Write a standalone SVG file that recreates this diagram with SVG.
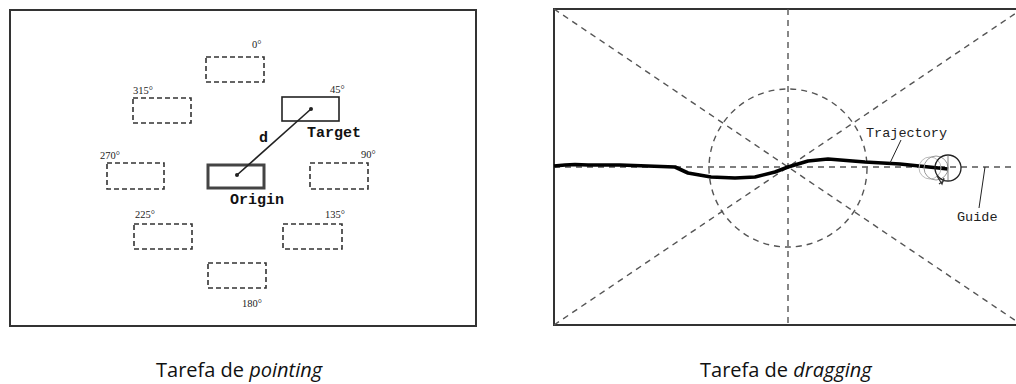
<svg xmlns="http://www.w3.org/2000/svg" width="1016" height="384" viewBox="0 0 1016 384">
<style>
.frame{fill:none;stroke:#333;stroke-width:2}
.dbox{fill:none;stroke:#333;stroke-width:1.6;stroke-dasharray:5 3}
.deg{font-family:"Liberation Serif",serif;font-size:10.5px;fill:#222}
.lbl{font-family:"Liberation Mono",monospace;font-size:15px;font-weight:bold;fill:#111}
.mono{font-family:"Liberation Mono",monospace;font-size:13.5px;fill:#222}
.guide{fill:none;stroke:#555;stroke-width:1.4;stroke-dasharray:6 5}
.cap{font-family:"Open Sans",sans-serif;font-size:20px;fill:#111}
</style>
<rect width="1016" height="384" fill="#fff"/>
<g id="pointing">
<rect class="frame" x="10" y="10" width="466" height="316"/>
<g id="t0"><rect class="dbox" x="206" y="57" width="58" height="25"/><text class="deg" x="252" y="48">0°</text></g>
<g id="t315"><rect class="dbox" x="133" y="98" width="58" height="25"/><text class="deg" x="133" y="94">315°</text></g>
<g id="target"><rect x="282" y="97" width="57" height="24" fill="none" stroke="#222" stroke-width="1.6"/><text class="deg" x="330" y="93">45°</text><text class="lbl" x="307" y="137">Target</text></g>
<g id="t270"><rect class="dbox" x="107" y="163" width="57" height="26"/><text class="deg" x="100" y="159">270°</text></g>
<g id="origin"><rect x="208" y="165" width="56" height="23" fill="none" stroke="#444" stroke-width="3"/><text class="lbl" x="230" y="204">Origin</text></g>
<g id="t90"><rect class="dbox" x="310" y="163" width="58" height="26"/><text class="deg" x="361" y="158">90°</text></g>
<g id="t225"><rect class="dbox" x="134" y="224" width="58" height="25"/><text class="deg" x="135" y="218">225°</text></g>
<g id="t135"><rect class="dbox" x="283" y="224" width="59" height="25"/><text class="deg" x="325" y="218">135°</text></g>
<g id="t180"><rect class="dbox" x="208" y="263" width="58" height="25"/><text class="deg" x="242" y="307">180°</text></g>
<g id="connectors">
<line x1="237" y1="175" x2="311" y2="109" stroke="#222" stroke-width="1.6"/>
<circle cx="237" cy="175" r="2" fill="#222"/>
<circle cx="311" cy="109" r="2" fill="#222"/>
</g>
<text class="lbl" x="259" y="142">d</text>
</g>
<g id="dragging">
<rect class="frame" x="554" y="9" width="470" height="316"/>
<line class="guide" x1="788" y1="9" x2="788" y2="325"/>
<line class="guide" x1="554" y1="9" x2="1022" y2="325"/>
<line class="guide" x1="554" y1="325" x2="1022" y2="9"/>
<line class="guide" x1="554" y1="167" x2="1016" y2="167"/>
<circle class="guide" cx="788" cy="168" r="79"/>
<path d="M554,166 L565,165 L575,164.5 L588,165 L620,165 L675,167 L688,173 L711,177 L735,178 L755,177 L775,172 L788,167 L808,161 L828,159 L865,162 L900,164 L948,169" fill="none" stroke="#000" stroke-width="3.6" stroke-linejoin="round"/>
<circle cx="930" cy="168" r="11" fill="none" stroke="#bbb" stroke-width="1"/>
<circle cx="936" cy="168" r="12" fill="none" stroke="#999" stroke-width="1"/>
<circle cx="948" cy="168" r="13" fill="none" stroke="#222" stroke-width="1.3"/>
<line x1="948" y1="155" x2="948" y2="181" stroke="#666" stroke-width="0.8"/>
<path d="M937,176 L942,184 L944,178 M939,184 L945,180" fill="none" stroke="#333" stroke-width="1.2"/>
<g id="trajectory-label"><text class="mono" x="866" y="137">Trajectory</text><line x1="901" y1="140" x2="890" y2="163" stroke="#222" stroke-width="1"/></g>
<g id="guide-label"><text class="mono" x="957" y="221">Guide</text><line x1="985" y1="167" x2="979" y2="208" stroke="#222" stroke-width="1"/></g>
</g>
<text class="cap" x="156" y="377">Tarefa de <tspan font-style="italic">pointing</tspan></text>
<text class="cap" x="700" y="377">Tarefa de <tspan font-style="italic">dragging</tspan></text>
</svg>
